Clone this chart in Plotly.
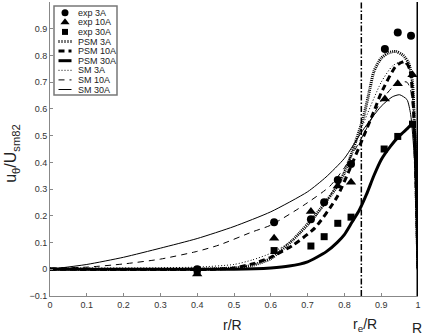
import plotly.graph_objects as go

# ---------------- data ----------------
# experimental points (r/R, u/U)
exp3_r = [0.40, 0.609, 0.709, 0.745, 0.782, 0.818, 0.910, 0.945, 0.981]
exp3_u = [0.000, 0.176, 0.187, 0.251, 0.334, 0.394, 0.824, 0.886, 0.874]
exp10_r = [0.40, 0.609, 0.709, 0.782, 0.818, 0.910, 0.945, 0.985]
exp10_u = [-0.018, 0.116, 0.216, 0.312, 0.326, 0.637, 0.694, 0.728]
exp30_r = [0.40, 0.609, 0.709, 0.745, 0.782, 0.818, 0.908, 0.945, 0.985]
exp30_u = [-0.004, 0.070, 0.087, 0.122, 0.172, 0.195, 0.450, 0.497, 0.543]

# PSM model curves
psm3_r = [0, 0.40, 0.50, 0.55, 0.60, 0.66, 0.72, 0.78, 0.80, 0.85, 0.87, 0.88, 0.90, 0.92, 0.94, 0.96, 0.975, 0.985, 0.99, 0.995, 1.0]
psm3_u = [0, 0.000, 0.005, 0.015, 0.040, 0.110, 0.200, 0.310, 0.360, 0.560, 0.680, 0.740, 0.790, 0.810, 0.815, 0.800, 0.770, 0.700, 0.550, 0.300, 0.0]
psm10_r = [0, 0.45, 0.50, 0.55, 0.60, 0.66, 0.72, 0.78, 0.81, 0.85, 0.88, 0.90, 0.94, 0.965, 0.978, 0.988, 0.995, 1.0]
psm10_u = [0, 0.000, 0.005, 0.020, 0.045, 0.090, 0.155, 0.270, 0.360, 0.490, 0.590, 0.660, 0.760, 0.778, 0.746, 0.600, 0.300, 0.0]
psm30_r = [0, 0.50, 0.60, 0.65, 0.70, 0.725, 0.75, 0.78, 0.80, 0.82, 0.84, 0.86, 0.88, 0.90, 0.925, 0.95, 0.97, 0.985, 0.99, 0.995, 1.0]
psm30_u = [0, 0.000, 0.005, 0.012, 0.028, 0.045, 0.065, 0.100, 0.130, 0.175, 0.220, 0.280, 0.350, 0.410, 0.460, 0.500, 0.525, 0.545, 0.520, 0.350, 0.0]

# SM model curves
sm3_r = [0, 0.30, 0.40, 0.50, 0.55, 0.60, 0.65, 0.70, 0.75, 0.80, 0.85, 0.90, 0.93, 0.95, 0.97, 0.98, 0.99, 0.995, 1.0]
sm3_u = [0.005, 0.006, 0.008, 0.018, 0.035, 0.060, 0.100, 0.160, 0.250, 0.370, 0.540, 0.700, 0.760, 0.775, 0.765, 0.730, 0.550, 0.300, 0.0]
sm10_r = [0, 0.10, 0.20, 0.30, 0.40, 0.46, 0.55, 0.60, 0.69, 0.76, 0.80, 0.85, 0.90, 0.93, 0.95, 0.97, 0.98, 0.99, 0.995, 1.0]
sm10_u = [0.005, 0.008, 0.020, 0.038, 0.067, 0.091, 0.140, 0.165, 0.240, 0.310, 0.380, 0.500, 0.630, 0.680, 0.700, 0.700, 0.670, 0.500, 0.300, 0.0]
sm30_r = [0, 0.10, 0.20, 0.30, 0.40, 0.50, 0.60, 0.70, 0.75, 0.80, 0.85, 0.90, 0.93, 0.95, 0.97, 0.98, 0.99, 0.995, 1.0]
sm30_u = [0, 0.018, 0.045, 0.079, 0.115, 0.160, 0.215, 0.290, 0.345, 0.415, 0.520, 0.610, 0.645, 0.653, 0.635, 0.580, 0.420, 0.250, 0.0]

R_E = 0.846  # r_e / R
R_WALL = 1.0

x_ticks = [0, 0.1, 0.2, 0.3, 0.4, 0.5, 0.6, 0.7, 0.8, 0.9, 1.0]
x_tick_labels = ["0", "0.1", "0.2", "0.3", "0.4", "0.5", "0.6", "0.7", "0.8", "0.9", "1"]
y_ticks = [-0.1, 0, 0.1, 0.2, 0.3, 0.4, 0.5, 0.6, 0.7, 0.8, 0.9]
y_tick_labels = ["\u22120.1", "0", "0.1", "0.2", "0.3", "0.4", "0.5", "0.6", "0.7", "0.8", "0.9"]

legend_labels = ["exp 3A", "exp 10A", "exp 30A", "PSM 3A", "PSM 10A", "PSM 30A", "SM 3A", "SM 10A", "SM 30A"]

# ---------------- styles ----------------
FONT = "Liberation Sans, Arial, Helvetica, sans-serif"
K = "black"
styles = {
    "PSM 3A": dict(width=3, dash="1px,1px"),
    "PSM 10A": dict(width=3, dash="6px,4px"),
    "PSM 30A": dict(width=3, dash="solid"),
    "SM 3A": dict(width=1, dash="1px,2px"),
    "SM 10A": dict(width=1, dash="6px,5px"),
    "SM 30A": dict(width=1, dash="solid"),
}
legend_dash = {"PSM 3A": "1px,2px"}
markers = {
    "exp 3A": dict(symbol="circle", size=8),
    "exp 10A": dict(symbol="triangle-up", size=9),
    "exp 30A": dict(symbol="square", size=7),
}

fig = go.Figure()

curves = [
    ("SM 30A", sm30_r, sm30_u),
    ("SM 10A", sm10_r, sm10_u),
    ("SM 3A", sm3_r, sm3_u),
    ("PSM 30A", psm30_r, psm30_u),
    ("PSM 10A", psm10_r, psm10_u),
    ("PSM 3A", psm3_r, psm3_u),
]
for name, r, u in curves:
    st = styles[name]
    fig.add_trace(go.Scatter(x=r, y=u, mode="lines", name=name, showlegend=False,
                             line=dict(color=K, width=st["width"], dash=st["dash"],
                                       shape="spline", smoothing=0.6)))

# vertical reference lines
fig.add_trace(go.Scatter(x=[R_E, R_E], y=[-0.1, 1.0], mode="lines", showlegend=False,
                         line=dict(color=K, width=1.5, dash="6px,2px,1.5px,2px")))
fig.add_trace(go.Scatter(x=[R_WALL, R_WALL], y=[-0.1, 1.0], mode="lines", showlegend=False,
                         cliponaxis=False, line=dict(color=K, width=3)))

for name, r, u in [("exp 3A", exp3_r, exp3_u), ("exp 10A", exp10_r, exp10_u), ("exp 30A", exp30_r, exp30_u)]:
    m = markers[name]
    fig.add_trace(go.Scatter(x=r, y=u, mode="markers", name=name, showlegend=False, cliponaxis=False,
                             marker=dict(color=K, symbol=m["symbol"], size=m["size"], line=dict(width=0))))

# ---------------- manual legend (pixel overlay axes) ----------------
L_LEFT, L_TOP, L_RIGHT, L_BOTTOM = 54, 6, 117, 95
row_y0, row_dy = 12.7, 9.6
sym_x0, sym_x1, sym_xc, text_x = 58.5, 71.5, 65, 76
for i, name in enumerate(legend_labels):
    yy = row_y0 + i * row_dy
    if name in markers:
        m = markers[name]
        fig.add_trace(go.Scatter(x=[sym_xc], y=[yy], xaxis="x2", yaxis="y2", mode="markers",
                                 showlegend=False, hoverinfo="skip",
                                 marker=dict(color=K, symbol=m["symbol"], size=m["size"] - 1, line=dict(width=0))))
    else:
        st = styles[name]
        fig.add_trace(go.Scatter(x=[sym_x0, sym_x1], y=[yy, yy], xaxis="x2", yaxis="y2", mode="lines",
                                 showlegend=False, hoverinfo="skip",
                                 line=dict(color=K, width=st["width"], dash=legend_dash.get(name, st["dash"]))))
    fig.add_annotation(x=text_x, y=yy, xref="x2", yref="y2", text=name, showarrow=False,
                       xanchor="left", yanchor="middle", font=dict(size=9, color="#222", family=FONT))

fig.add_shape(type="rect", xref="x2", yref="y2", x0=L_LEFT, x1=L_RIGHT, y0=L_TOP, y1=L_BOTTOM,
              line=dict(color="#777", width=1.5), fillcolor="rgba(0,0,0,0)")

# ---------------- axis titles (paper coordinates) ----------------
ttl = dict(xref="paper", yref="paper", showarrow=False, xanchor="center", yanchor="middle")
fnt14 = dict(size=14, color="#222", family=FONT)
fig.add_annotation(x=0.4946, y=-0.100, text="r/R", font=fnt14, **ttl)
fig.add_annotation(x=0.856, y=-0.100, text="r<sub>e</sub>/R", font=fnt14, **ttl)
fig.add_annotation(x=0.9986, y=-0.108, text="R", font=fnt14, **ttl)
fig.add_annotation(x=-0.103, y=0.484, text="u<sub>\u03b8</sub>/U<sub>sm82</sub>", textangle=-90,
                   font=dict(size=16, color="#222", family=FONT), **ttl)

axis_common = dict(showgrid=False, zeroline=False, showline=True, linecolor="#888", linewidth=1,
                   ticks="inside", ticklen=3, tickcolor="#888", tickwidth=1, automargin=False,
                   tickfont=dict(size=9, color="#333", family=FONT), mirror=False)

fig.update_layout(
    width=425, height=335,
    margin=dict(l=50, r=7, t=2, b=39),
    paper_bgcolor="white", plot_bgcolor="white",
    showlegend=False,
    xaxis=dict(range=[0, 1.0], tickvals=x_ticks, ticktext=x_tick_labels, **axis_common),
    yaxis=dict(range=[-0.1, 1.0], tickvals=y_ticks, ticktext=y_tick_labels, **axis_common),
    xaxis2=dict(range=[50, 418], overlaying="x", visible=False, anchor="y2"),
    yaxis2=dict(range=[296, 2], overlaying="y", visible=False, anchor="x2"),
    font=dict(family=FONT),
)

fig.write_html("out.html", config={"displayModeBar": False, "staticPlot": True},
               post_script="document.body.style.margin='0';document.body.style.overflow='hidden';")
